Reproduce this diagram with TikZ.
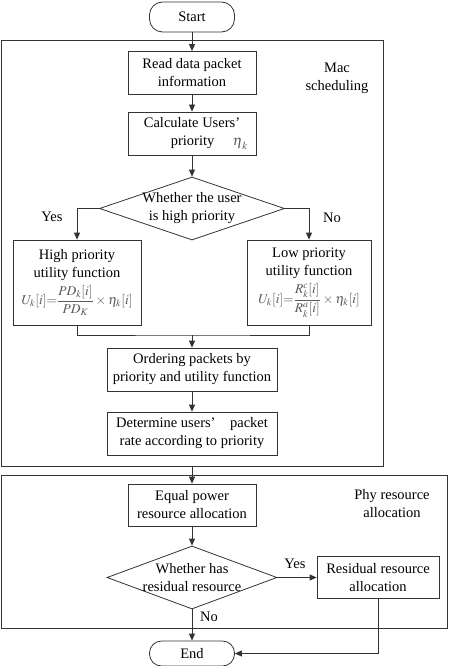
\documentclass[tikz,border=0pt]{standalone}
\usepackage{amsmath}
\usepackage{mathptmx}
\usepackage{fontspec}
\setmainfont{Liberation Serif}
\usetikzlibrary{positioning,shapes.geometric,arrows.meta}

\definecolor{linegray}{HTML}{333333}
\definecolor{mathgray}{HTML}{5A5A5A}

\begin{document}
\begin{tikzpicture}[x=1pt,y=-1pt,
  every node/.style={font=\fontsize{14.5}{18}\selectfont},
  procbox/.style={draw=linegray, line width=0.8pt, minimum width=128pt, minimum height=43pt, align=center, inner sep=1pt},
  termbox/.style={draw=linegray, line width=0.8pt, rounded corners=13pt, minimum width=85pt, minimum height=30pt},
  decision/.style={draw=linegray, line width=0.8pt, diamond, inner sep=0pt},
  groupbox/.style={draw=linegray, line width=0.8pt, inner sep=0pt},
  arr/.style={draw=linegray, line width=0.8pt, -{Triangle[length=7pt,width=6pt]}},
  link/.style={draw=linegray, line width=0.8pt}]
  \useasboundingbox (0,0) rectangle (454,666);
  % Cadres
  \node[groupbox, minimum width=382pt, minimum height=426pt] (mac) at (192,253) {};
  \node[groupbox, minimum width=446pt, minimum height=153pt] (phy) at (224,551.5) {};
  \node[align=center] (maclabel) at (337,78) {Mac\\scheduling};
  \node[align=center] (phylabel) at (392,504) {Phy resource\\allocation};
  % Noeuds
  \node[termbox] (start) at (192,17) {Start};
  \node[procbox] (read) at (192,73) {Read data packet\\information};
  \node[procbox] (calc) at (192,133.5) {Calculate Users’\\\hspace*{2.4em}priority \quad\textcolor{mathgray}{$\boldsymbol{\eta}_k$}};
  \node[decision, minimum width=185pt, minimum height=63pt] (dec1) at (192,208.5) {};
  \node[align=center] (dec1text) at (dec1) {Whether the user\\is high priority};
  \node[procbox, minimum height=85pt] (high) at (77,282.5) {High priority\\utility function\\[4pt]
    {\color{mathgray}\fontsize{13.5}{16}\selectfont$\displaystyle U_k[i]{=}\frac{PD_k[i]}{PD_K}\times\eta_k[i]$}};
  \node[procbox, minimum width=124pt, minimum height=85pt] (low) at (309,282.5) {Low priority\\utility function\\[4pt]
    {\color{mathgray}\fontsize{13.5}{16}\selectfont$\displaystyle U_k[i]{=}\frac{R_k^c[i]}{R_k^a[i]}\times\eta_k[i]$}};
  \coordinate (merge) at (192,335);
  \node[procbox, minimum width=170pt] (order) at (192,369.5) {Ordering packets by\\priority and utility function};
  \node[procbox, minimum width=170pt] (determ) at (192,433.5) {Determine users’\quad packet\\rate according to priority};
  \node[procbox, minimum height=42pt] (equal) at (192,505) {Equal power\\resource allocation};
  \node[decision, minimum width=170pt, minimum height=63pt] (dec2) at (192,577.5) {};
  \node[align=center] (dec2text) at (dec2) {Whether has\\residual resource};
  \node[procbox, minimum width=122pt, minimum height=42pt] (resid) at (378,577.5) {Residual resource\\allocation};
  \node[termbox, minimum height=25pt, rounded corners=12pt] (end) at (192,653.5) {End};
  % Etiquettes
  \node (yes1) at (52,217) {Yes};
  \node (no1) at (332,218) {No};
  \node (yes2) at (295,564) {Yes};
  \node (no2) at (209,617) {No};
  % Liens
  \draw[arr] (start) -- (read);
  \draw[arr] (read) -- (calc);
  \draw[arr] (calc) -- (dec1);
  \draw[arr] (dec1.west) -| (high.north);
  \draw[arr] (dec1.east) -| (low.north);
  \draw[link] (high.south) |- (merge) -| (low.south);
  \draw[arr] (merge) -- (order);
  \draw[arr] (order) -- (determ);
  \draw[arr] (mac.south) -- (equal.north);
  \draw[arr] (equal) -- (dec2);
  \draw[arr] (dec2.east) -- (resid.west);
  \draw[arr] (dec2.south) -- (end.north);
  \draw[arr] (resid.south) |- (end.east);
\end{tikzpicture}
\end{document}
